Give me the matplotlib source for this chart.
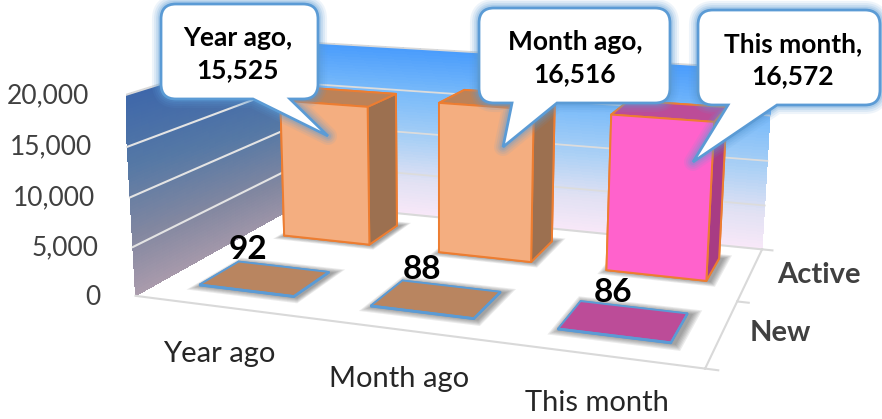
import numpy as np, matplotlib
matplotlib.use('Agg')
import matplotlib.pyplot as plt
from matplotlib.path import Path
from matplotlib.patches import PathPatch
from matplotlib.transforms import Affine2D
from mpl_toolkits.mplot3d.art3d import Poly3DCollection

categories = ['Year ago', 'Month ago', 'This month']
series = ['New', 'Active']
new_users = [92, 88, 86]
active_users = [15525, 16516, 16572]
z_ticks = [0, 5000, 10000, 15000, 20000]

front = ['#F4AE80', '#F4AE80', '#FF62CC']
side = ['#9C7050', '#9C7050', '#A83C84']
top = ['#BC8258', '#BC8258', '#BC4C98']
flat = ['#B98560', '#B98560', '#BC4C98']
FONT = 'Lato'

W, H = 882, 419
fig = plt.figure(figsize=(W/100, H/100), dpi=100)
s, tx, ty = 3590.7, 467.0, 178.1
side_px = s*0.185
left_px = tx - s*0.095
bottom_px = ty - s*0.09 + side_px
ax = fig.add_axes([left_px/W, (H-bottom_px)/H, side_px/W, side_px/H], projection='3d', computed_zorder=False)
ax.set_xlim(-.5, 2.5); ax.set_ylim(-.5, 1.5); ax.set_zlim(0, 20000)
ax.view_init(elev=14.032, azim=-70.957, roll=-0.2939)
ax.set_proj_type('persp', focal_length=0.3844)
ax.set_box_aspect((1, 0.6617, 0.3573))
ax.set_axis_off()
ax.patch.set_alpha(0)

def lerp_stops(t, stops):
    t = np.asarray(t)
    xs = [a for a, _ in stops]
    return np.stack([np.interp(t, xs, [c[i] for _, c in stops]) for i in range(3)], -1)/255

# walls
n = 60
zz = np.linspace(0, 20000, n)
xb = np.linspace(-.5, 2.5, 4)
Xb, Zb = np.meshgrid(xb, zz)
Yb = np.full_like(Xb, 1.5)
cb = lerp_stops(Zb[:-1, :-1]/20000, [(0, (248, 232, 248)), (.2, (225, 225, 243)), (.45, (170, 208, 245)), (.75, (118, 185, 250)), (1, (72, 155, 252))])
ax.plot_surface(Xb, Yb, Zb, facecolors=cb, shade=False, rstride=1, cstride=1, linewidth=0, antialiased=False, zorder=1)
yb = np.linspace(-.5, 1.5, 30)
Yl, Zl = np.meshgrid(yb, zz)
Xl = np.full_like(Yl, -.5)
tl = np.clip(Zl[:-1, :-1]/20000 + 0.15*(Yl[:-1, :-1]+.5)/2, 0, 1)
cl = lerp_stops(tl, [(0, (170, 155, 172)), (.3, (130, 135, 160)), (.65, (85, 120, 165)), (1, (62, 103, 170))])
ax.plot_surface(Xl, Yl, Zl, facecolors=cl, shade=False, rstride=1, cstride=1, linewidth=0, antialiased=False, zorder=1)

for v in z_ticks[1:]:
    edge = v == z_ticks[-1]
    ax.plot([-.5, -.5], [-.5, 1.5], [v, v], color='#D9D9D9' if edge else '#E4E4E4', lw=1.5, zorder=2)
    ax.plot([-.5, 2.5], [1.5, 1.5], [v, v], color='#D9D9D9' if edge else '#DCDCDC', lw=1.3, zorder=2)
for xs, ys in [([-.5, 2.5], [-.5, -.5]), ([2.5, 2.5], [-.5, 1.5]), ([-.5, 2.5], [1.5, 1.5]),
               ([2.5, 2.56], [1.5, 1.5]), ([2.5, 2.56], [.5, .5]), ([2.5, 2.56], [-.5, -.5])]:
    ax.plot(xs, ys, [0, 0], color='#D9D9D9', lw=1.5, zorder=2)

xpos = np.arange(len(categories)) + 0.01
bw, bd = 0.56, 0.44
ynew, yact = -0.01, 1.01

def shadow(xc, yc):
    for k in range(1, 7):
        dx, dy = k*1.3/190, k*1.3/90
        x0, x1, y0, y1 = xc-bw/2-dx+.01, xc+bw/2+dx+.02, yc-bd/2-dy, yc+bd/2+dy
        ax.add_collection3d(Poly3DCollection([[(x0, y0, 0), (x1, y0, 0), (x1, y1, 0), (x0, y1, 0)]],
                            facecolor=(.25, .25, .25, .10), edgecolor='none', zorder=3))
for xc in xpos:
    shadow(xc, ynew); shadow(xc, yact)

def bar_colors(tc, fc, sc):
    out = []
    for t_, f_, s_ in zip(tc, fc, sc):
        out += [s_, t_, f_, s_, s_, s_]
    return out

ax.bar3d(xpos-bw/2, np.full(3, ynew-bd/2), np.zeros(3), bw, bd, new_users,
         color=bar_colors(flat, flat, flat), shade=False, edgecolor='#5B9BD5', linewidth=1.3, zorder=4)
ax.bar3d(xpos-bw/2, np.full(3, yact-bd/2), np.zeros(3), bw, bd, active_users,
         color=bar_colors(top, front, side), shade=False, edgecolor='#ED7D31', linewidth=1.4, zorder=5)

pix = Affine2D().scale(1/W, -1/H).translate(0, 1) + fig.transFigure
BLUE = '#5B9BD5'

def callout(l, t, r, b, rad, b1, b2, tipx, tipy):
    V = [(l+rad, t), (r-rad, t), (r, t), (r, t+rad), (r, b-rad), (r, b), (r-rad, b), (b2, b), (tipx, tipy), (b1, b),
         (l+rad, b), (l, b), (l, b-rad), (l, t+rad), (l, t), (l+rad, t), (l+rad, t)]
    C = [Path.MOVETO, Path.LINETO, Path.CURVE3, Path.CURVE3, Path.LINETO, Path.CURVE3, Path.CURVE3, Path.LINETO, Path.LINETO,
         Path.LINETO, Path.LINETO, Path.CURVE3, Path.CURVE3, Path.LINETO, Path.CURVE3, Path.CURVE3, Path.CLOSEPOLY]
    path = Path(V, C)
    for lw, al in [(13, .10), (10, .13), (7, .17), (4.5, .22)]:
        fig.add_artist(PathPatch(path, facecolor='none', edgecolor=BLUE, alpha=al, lw=lw, transform=pix, zorder=2, joinstyle='round'))
    fig.add_artist(PathPatch(path, facecolor='white', edgecolor=BLUE, lw=2, transform=pix, zorder=2.5, joinstyle='miter'))

boxes = [(161, 4, 318, 99, 15, 253, 290, 328, 136),
         (479, 8, 670, 103, 15, 512, 557, 503, 147),
         (698, 10, 880, 105, 15, 728, 777, 693, 162)]
centers = [(238, 54), (575, 58), (793, 60)]
for bx, (cx, cy), c, v in zip(boxes, centers, categories, active_users):
    callout(*bx)
    fig.text(cx, cy, f'{c},\n{v:,}', transform=pix, ha='center', va='center', fontsize=19, fontweight='bold',
             family=FONT, color='black', linespacing=1.42, zorder=3)

for v, (x, y) in zip(z_ticks, [(101, 297), (98.5, 248), (95.5, 198), (92.5, 147), (89.5, 96)]):
    fig.text(x, y, f'{v:,}', transform=pix, ha='right', va='center', fontsize=19, family=FONT, color='#404040', zorder=3)
for c, (x, y) in zip(categories, [(219, 354), (399, 379), (597, 403)]):
    fig.text(x, y, c, transform=pix, ha='center', va='center', fontsize=21, family=FONT, color='#262626', zorder=3)
for c, (x, y) in zip(series, [(780, 333), (819, 275)]):
    fig.text(x, y, c, transform=pix, ha='center', va='center', fontsize=21, fontweight='bold', family=FONT, color='#404040', zorder=3)
for v, (x, y) in zip(new_users, [(248, 249), (422, 269), (613, 292)]):
    fig.text(x, y, str(v), transform=pix, ha='center', va='center', fontsize=24, fontweight='bold', family=FONT, color='black', zorder=3)

fig.savefig('out.png', dpi=100)
